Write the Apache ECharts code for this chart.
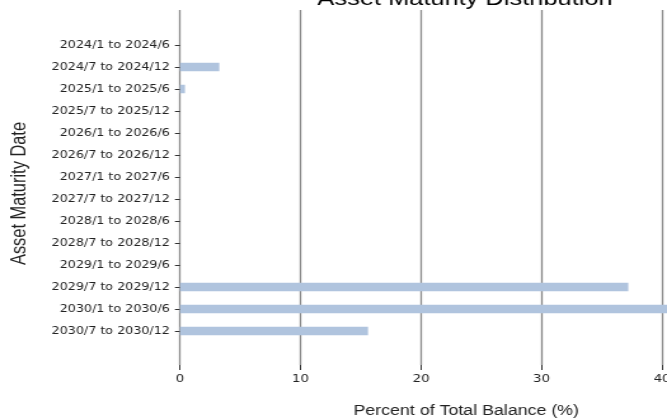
<!DOCTYPE html>
<html>
<head>
<meta charset="utf-8">
<script src="https://cdn.jsdelivr.net/npm/echarts@6/dist/echarts.min.js"></script>
<style>
  html, body { margin: 0; padding: 0; overflow: hidden; background: #fff; }
  #wrap { width: 667px; height: 420px; overflow: hidden; position: relative; }
  #c { width: 525px; height: 420px; transform: scaleX(1.2705); transform-origin: 0 0; }
</style>
</head>
<body>
<div id="wrap"><div id="c"></div></div>
<script>
const categories = [
  '2024/1 to 2024/6', '2024/7 to 2024/12',
  '2025/1 to 2025/6', '2025/7 to 2025/12',
  '2026/1 to 2026/6', '2026/7 to 2026/12',
  '2027/1 to 2027/6', '2027/7 to 2027/12',
  '2028/1 to 2028/6', '2028/7 to 2028/12',
  '2029/1 to 2029/6', '2029/7 to 2029/12',
  '2030/1 to 2030/6', '2030/7 to 2030/12'
];
const percentValues = [0, 3.26, 0.41, 0, 0, 0, 0, 0, 0, 0, 0, 37.2, 45.2, 15.6];
const xMin = 0;
const xMax = 47.5;
const xInterval = 10;
const titleText = 'Asset Maturity Distribution';
const xName = 'Percent of Total Balance (%)';
const yName = 'Asset Maturity Date';

const chart = echarts.init(document.getElementById('c'), null, { renderer: 'canvas' });
const gridLeft = 141.7, gridWidth = 450.5;
chart.setOption({
  animation: false,
  backgroundColor: '#fff',
  title: {
    text: titleText,
    left: 366, top: -11, padding: 0,
    textAlign: 'center',
    textStyle: { fontFamily: 'Liberation Sans', fontSize: 20, fontWeight: 'normal', color: '#000' }
  },
  grid: [
    { left: gridLeft, top: 10, width: gridWidth, height: 355, containLabel: false, outerBoundsMode: 'none' },
    { left: gridLeft, top: 34, width: gridWidth, height: 308, containLabel: false, outerBoundsMode: 'none' }
  ],
  xAxis: [
    {
      gridIndex: 0, type: 'value', min: xMin, max: xMax, interval: xInterval,
      axisLine: { show: false },
      axisTick: { show: true, length: 5, lineStyle: { color: '#333', width: 1 } },
      axisLabel: { margin: 9, fontFamily: 'DejaVu Sans', fontSize: 10.5, color: '#222' },
      splitLine: { show: true, lineStyle: { color: '#8a8a8a', width: 1.3 } },
      name: xName, nameLocation: 'middle', nameGap: 39,
      nameTextStyle: { fontFamily: 'Liberation Sans', fontSize: 14, color: '#222' }
    },
    { gridIndex: 1, type: 'value', min: xMin, max: xMax, interval: xInterval, show: false }
  ],
  yAxis: [
    {
      gridIndex: 0, type: 'value', min: 0, max: 1,
      axisLine: { show: false }, axisTick: { show: false }, axisLabel: { show: false },
      splitLine: { show: false },
      name: yName, nameLocation: 'middle', nameGap: 118,
      nameTextStyle: { fontFamily: 'Liberation Sans', fontSize: 16.4, color: '#222', padding: [0, 12, 0, 0] }
    },
    {
      gridIndex: 1, type: 'category', data: categories, inverse: true,
      axisLine: { show: false },
      axisTick: { show: true, length: 4, alignWithLabel: true, interval: 0, lineStyle: { color: '#333', width: 1 } },
      axisLabel: { interval: 0, margin: 8, fontFamily: 'DejaVu Sans', fontSize: 10, color: '#222' }
    }
  ],
  series: [{
    type: 'bar', xAxisIndex: 1, yAxisIndex: 1,
    data: percentValues, barWidth: 8.5,
    itemStyle: { color: '#b0c4de' }
  }]
});
</script>
</body>
</html>
